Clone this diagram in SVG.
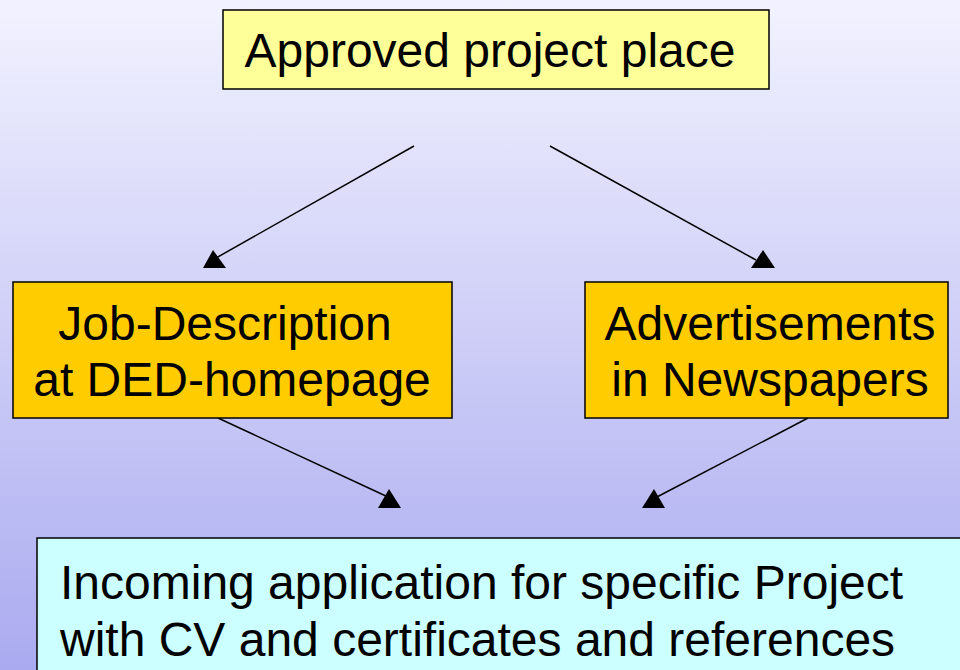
<svg xmlns="http://www.w3.org/2000/svg" width="960" height="670" viewBox="0 0 960 670">
<defs>
<linearGradient id="bg" x1="0" y1="0" x2="0" y2="1">
<stop offset="0" stop-color="#F2F2FF"/>
<stop offset="1" stop-color="#AAAAF0"/>
</linearGradient>
</defs>
<style>
.box{stroke:#000;stroke-width:1.5}
.t{font-family:"Liberation Sans",Arial,sans-serif;font-size:48px;fill:#000}
.c{stroke:#000;stroke-width:1.5;fill:none}
.h{fill:#000}
</style>
<rect width="960" height="670" fill="url(#bg)"/>
<g id="connectors">
<line class="c" x1="414" y1="146" x2="216" y2="258"/>
<polygon class="h" points="213,250 203,268 226,268"/>
<line class="c" x1="550" y1="146" x2="756" y2="260"/>
<polygon class="h" points="763,250 751,268 775,268"/>
<line class="c" x1="218" y1="418" x2="388" y2="497"/>
<polygon class="h" points="389,489 378,508 401,508"/>
<line class="c" x1="808" y1="418" x2="655" y2="498"/>
<polygon class="h" points="654,489 642,508 665,508"/>
</g>
<g id="approved">
<rect class="box" x="223" y="10" width="546" height="79" fill="#FFFF99"/>
<text class="t" x="490" y="67" text-anchor="middle">Approved project place</text>
</g>
<g id="jobdesc">
<rect class="box" x="13" y="282" width="439" height="136" fill="#FFCC00"/>
<text class="t" x="225" y="340" text-anchor="middle">Job-Description</text>
<text class="t" x="232" y="396" text-anchor="middle">at DED-homepage</text>
</g>
<g id="ads">
<rect class="box" x="585" y="282" width="363" height="136" fill="#FFCC00"/>
<text class="t" x="770" y="340" text-anchor="middle">Advertisements</text>
<text class="t" x="770" y="396" text-anchor="middle">in Newspapers</text>
</g>
<g id="incoming">
<rect class="box" x="37" y="538" width="940" height="150" fill="#CCFFFF"/>
<text class="t" x="60" y="599">Incoming application for specific Project</text>
<text class="t" x="60" y="656">with CV and certificates and references</text>
</g>
</svg>
